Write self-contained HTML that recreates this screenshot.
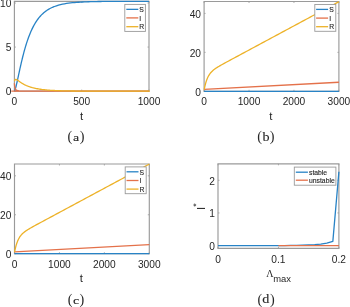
<!DOCTYPE html>
<html><head><meta charset="utf-8"><style>
html,body{margin:0;padding:0;background:#fff;}
svg{display:block;will-change:transform;}

</style></head><body>
<svg width="350" height="307" viewBox="0 0 350 307">

<rect width="350" height="307" fill="#fff"/>
<g >
<path d="M14.4,1.3 H149.0 V91.1 H14.4 Z" fill="none" stroke="#9a9a9a" stroke-width="1.15"/>
<path d="M14.4,91.1 h1.5 M149.0,91.1 h-1.5" stroke="#9a9a9a" stroke-width="0.8"/>
<path d="M14.4,47.074999999999996 h1.5 M149.0,47.074999999999996 h-1.5" stroke="#9a9a9a" stroke-width="0.8"/>
<path d="M14.4,3.049999999999997 h1.5 M149.0,3.049999999999997 h-1.5" stroke="#9a9a9a" stroke-width="0.8"/>
<path d="M14.4,91.1 v-1.5 M14.4,1.3 v1.5" stroke="#9a9a9a" stroke-width="0.8"/>
<path d="M81.7,91.1 v-1.5 M81.7,1.3 v1.5" stroke="#9a9a9a" stroke-width="0.8"/>
<path d="M149.0,91.1 v-1.5 M149.0,1.3 v1.5" stroke="#9a9a9a" stroke-width="0.8"/>
<g fill="none" stroke-width="1.3" stroke-linejoin="round">
<path d="M14.50,90.80 L14.75,90.48 L15.00,89.91 L15.25,89.19 L15.50,88.37 L15.75,87.47 L16.00,86.51 L16.25,85.49 L16.50,84.44 L16.75,83.36 L17.00,82.26 L17.25,81.13 L17.50,79.99 L17.75,78.84 L18.00,77.69 L18.25,76.53 L18.50,75.37 L18.75,74.21 L19.00,73.05 L19.25,71.90 L19.50,70.75 L19.75,69.61 L20.00,68.47 L20.25,67.35 L20.50,66.24 L20.75,65.13 L21.00,64.04 L21.25,62.96 L21.50,61.89 L21.75,60.84 L22.00,59.80 L22.25,58.77 L22.50,57.75 L22.75,56.75 L23.00,55.76 L23.25,54.79 L23.50,53.83 L23.75,52.88 L24.00,51.95 L24.25,51.04 L24.50,50.13 L25.00,48.37 L25.50,46.67 L26.00,45.02 L26.50,43.42 L27.00,41.88 L27.50,40.39 L28.00,38.95 L28.50,37.56 L29.00,36.23 L29.50,34.94 L30.00,33.69 L30.50,32.49 L31.00,31.34 L31.50,30.22 L32.00,29.15 L32.50,28.12 L33.00,27.12 L33.50,26.16 L34.00,25.24 L34.50,24.35 L35.00,23.49 L35.50,22.67 L36.00,21.88 L36.50,21.11 L37.00,20.38 L37.50,19.67 L38.00,18.99 L38.50,18.34 L39.00,17.71 L39.50,17.10 L40.00,16.52 L40.50,15.96 L41.00,15.41 L41.50,14.89 L42.00,14.39 L42.50,13.91 L43.00,13.45 L43.50,13.00 L44.00,12.57 L44.50,12.16 L45.00,11.76 L45.50,11.38 L46.00,11.01 L46.50,10.66 L47.00,10.31 L47.50,9.99 L48.00,9.67 L48.50,9.37 L49.00,9.07 L49.50,8.79 L50.00,8.52 L50.50,8.26 L51.00,8.01 L51.50,7.76 L52.00,7.53 L52.50,7.30 L53.00,7.09 L53.50,6.88 L54.00,6.68 L54.50,6.49 L56.50,5.78 L58.50,5.17 L60.50,4.65 L62.50,4.20 L64.50,3.81 L66.50,3.48 L68.50,3.19 L70.50,2.94 L72.50,2.72 L74.50,2.53 L76.50,2.37 L78.50,2.23 L80.50,2.11 L82.50,2.00 L84.50,1.91 L86.50,1.83 L88.50,1.76 L90.50,1.70 L92.50,1.65 L94.50,1.60 L96.50,1.56 L98.50,1.52 L100.50,1.49 L102.50,1.47 L104.50,1.44 L106.50,1.42 L108.50,1.41 L110.50,1.39 L112.50,1.38 L114.50,1.37 L116.50,1.36 L118.50,1.35 L120.50,1.34 L122.50,1.33 L124.50,1.33 L126.50,1.32 L128.50,1.32 L130.50,1.31 L132.50,1.31 L134.50,1.31 L136.50,1.30 L138.50,1.30 L140.50,1.30 L142.50,1.30 L144.50,1.30 L146.50,1.29 L148.50,1.29 L149.00,1.29" stroke="#2883C6"/>
<path d="M14.40,83.30 C14.45,83.82 14.52,85.45 14.70,86.40 C14.88,87.35 15.15,88.33 15.50,89.00 C15.85,89.67 16.22,90.07 16.80,90.40 C17.38,90.73 18.13,90.88 19.00,91.00 C19.87,91.12 0.33,91.12 22.00,91.15 C43.67,91.18 127.83,91.15 149.00,91.15" stroke="#E4714A"/>
<path d="M14.40,81.19 L14.65,80.53 L14.90,80.07 L15.15,79.76 L15.40,79.57 L15.65,79.47 L15.90,79.44 L16.15,79.47 L16.40,79.54 L16.65,79.65 L16.90,79.77 L17.15,79.92 L17.40,80.08 L17.65,80.24 L17.90,80.42 L18.15,80.60 L18.40,80.78 L18.65,80.96 L18.90,81.14 L19.15,81.33 L19.40,81.51 L19.65,81.69 L19.90,81.86 L20.15,82.04 L20.40,82.21 L20.65,82.38 L20.90,82.55 L21.15,82.71 L21.40,82.87 L21.65,83.03 L21.90,83.19 L22.15,83.34 L22.40,83.49 L22.65,83.64 L22.90,83.78 L23.15,83.92 L23.40,84.06 L23.65,84.20 L23.90,84.33 L24.15,84.46 L24.40,84.59 L25.40,85.08 L26.40,85.53 L27.40,85.95 L28.40,86.34 L29.40,86.70 L30.40,87.03 L31.40,87.34 L32.40,87.63 L33.40,87.89 L34.40,88.13 L35.40,88.36 L36.40,88.57 L37.40,88.76 L38.40,88.94 L39.40,89.11 L40.40,89.26 L41.40,89.40 L42.40,89.53 L43.40,89.65 L44.40,89.76 L45.40,89.87 L46.40,89.96 L47.40,90.05 L48.40,90.13 L49.40,90.21 L50.40,90.28 L51.40,90.35 L52.40,90.41 L53.40,90.46 L54.40,90.51 L55.40,90.56 L56.40,90.60 L57.40,90.65 L58.40,90.68 L59.40,90.72 L60.40,90.75 L61.40,90.78 L62.40,90.81 L63.40,90.83 L64.40,90.86 L65.40,90.88 L66.40,90.90 L67.40,90.92 L68.40,90.94 L69.40,90.95 L70.40,90.97 L71.40,90.98 L72.40,90.99 L73.40,91.00 L74.40,91.02 L75.40,91.03 L76.40,91.03 L77.40,91.04 L78.40,91.05 L79.40,91.06 L80.40,91.07 L81.40,91.07 L82.40,91.08 L83.40,91.08 L84.40,91.09 L89.40,91.11 L94.40,91.12 L99.40,91.13 L104.40,91.14 L109.40,91.14 L114.40,91.14 L119.40,91.15 L124.40,91.15 L129.40,91.15 L134.40,91.15 L139.40,91.15 L144.40,91.15 L149.40,91.15 L149.00,91.15" stroke="#EDB228"/>
</g>
<rect x="124.8" y="4.4" width="20.60000000000001" height="27.0" fill="#fff" stroke="#9a9a9a" stroke-width="0.9"/>
<path d="M126.3,9.35 H138.3" stroke="#2883C6" stroke-width="1.3"/>
<path d="M126.3,17.9 H138.3" stroke="#E4714A" stroke-width="1.3"/>
<path d="M126.3,26.7 H138.3" stroke="#EDB228" stroke-width="1.3"/>
<path d="M204.1,1.5 H338.9 V91.3 H204.1 Z" fill="none" stroke="#9a9a9a" stroke-width="1.15"/>
<path d="M204.1,91.3 h1.5 M338.9,91.3 h-1.5" stroke="#9a9a9a" stroke-width="0.8"/>
<path d="M204.1,52.349999999999994 h1.5 M338.9,52.349999999999994 h-1.5" stroke="#9a9a9a" stroke-width="0.8"/>
<path d="M204.1,13.399999999999991 h1.5 M338.9,13.399999999999991 h-1.5" stroke="#9a9a9a" stroke-width="0.8"/>
<path d="M204.1,91.3 v-1.5 M204.1,1.5 v1.5" stroke="#9a9a9a" stroke-width="0.8"/>
<path d="M249.0333333333333,91.3 v-1.5 M249.0333333333333,1.5 v1.5" stroke="#9a9a9a" stroke-width="0.8"/>
<path d="M293.96666666666664,91.3 v-1.5 M293.96666666666664,1.5 v1.5" stroke="#9a9a9a" stroke-width="0.8"/>
<path d="M338.9,91.3 v-1.5 M338.9,1.5 v1.5" stroke="#9a9a9a" stroke-width="0.8"/>
<g fill="none" stroke-width="1.3" stroke-linejoin="round">
<path d="M204.1,91.3 H338.9" stroke="#2883C6"/>
<path d="M204.1,89.39999999999999 L338.9,82.24999999999999" stroke="#E4714A"/>
<path d="M204.20,89.60 L204.30,89.08 L204.40,88.58 L204.50,88.09 L204.60,87.62 L204.70,87.15 L204.80,86.70 L204.90,86.26 L205.00,85.83 L205.10,85.42 L205.20,85.01 L205.30,84.61 L205.40,84.23 L205.50,83.85 L205.60,83.49 L205.70,83.13 L205.80,82.78 L205.90,82.45 L206.00,82.12 L206.10,81.79 L206.20,81.48 L206.30,81.17 L206.40,80.88 L206.50,80.58 L206.60,80.30 L206.70,80.02 L206.80,79.75 L206.90,79.49 L207.00,79.23 L207.10,78.98 L207.20,78.73 L207.70,77.59 L208.20,76.56 L208.70,75.65 L209.20,74.82 L209.70,74.07 L210.20,73.39 L210.70,72.77 L211.20,72.20 L211.70,71.67 L212.20,71.17 L212.70,70.71 L213.20,70.28 L213.70,69.86 L214.20,69.47 L214.70,69.10 L215.20,68.74 L215.70,68.39 L216.20,68.06 L216.70,67.73 L217.20,67.41 L217.70,67.10 L218.20,66.80 L218.70,66.50 L219.20,66.20 L219.70,65.91 L220.20,65.62 L220.70,65.34 L221.20,65.05 L221.70,64.77 L222.20,64.49 L224.20,63.39 L226.20,62.29 L228.20,61.21 L230.20,60.13 L232.20,59.05 L234.20,57.98 L236.20,56.90 L238.20,55.83 L240.20,54.75 L242.20,53.68 L244.20,52.60 L246.20,51.53 L248.20,50.45 L250.20,49.38 L252.20,48.30 L254.20,47.23 L256.20,46.15 L258.20,45.08 L260.20,44.00 L262.20,42.93 L264.20,41.85 L266.20,40.78 L268.20,39.70 L270.20,38.63 L272.20,37.55 L274.20,36.48 L276.20,35.40 L278.20,34.33 L280.20,33.25 L282.20,32.18 L284.20,31.10 L286.20,30.03 L288.20,28.95 L290.20,27.88 L292.20,26.80 L294.20,25.73 L296.20,24.65 L298.20,23.58 L300.20,22.50 L302.20,21.43 L304.20,20.35 L306.20,19.28 L308.20,18.20 L310.20,17.13 L312.20,16.05 L314.20,14.98 L316.20,13.90 L318.20,12.83 L320.20,11.75 L322.20,10.68 L324.20,9.60 L326.20,8.52 L328.20,7.45 L330.20,6.38 L332.20,5.30 L334.20,4.22 L336.20,3.15 L338.20,2.08 L338.90,1.70" stroke="#EDB228"/>
</g>
<rect x="314.8" y="4.5" width="21.0" height="26.8" fill="#fff" stroke="#9a9a9a" stroke-width="0.9"/>
<path d="M316.1,9.4 H328.1" stroke="#2883C6" stroke-width="1.3"/>
<path d="M316.1,18.1 H328.1" stroke="#E4714A" stroke-width="1.3"/>
<path d="M316.1,26.7 H328.1" stroke="#EDB228" stroke-width="1.3"/>
<path d="M14.5,164.0 H149.29999999999998 V253.7 H14.5 Z" fill="none" stroke="#9a9a9a" stroke-width="1.15"/>
<path d="M14.5,253.7 h1.5 M149.29999999999998,253.7 h-1.5" stroke="#9a9a9a" stroke-width="0.8"/>
<path d="M14.5,214.75 h1.5 M149.29999999999998,214.75 h-1.5" stroke="#9a9a9a" stroke-width="0.8"/>
<path d="M14.5,175.79999999999998 h1.5 M149.29999999999998,175.79999999999998 h-1.5" stroke="#9a9a9a" stroke-width="0.8"/>
<path d="M14.5,253.7 v-1.5 M14.5,164.0 v1.5" stroke="#9a9a9a" stroke-width="0.8"/>
<path d="M59.43333333333332,253.7 v-1.5 M59.43333333333332,164.0 v1.5" stroke="#9a9a9a" stroke-width="0.8"/>
<path d="M104.36666666666665,253.7 v-1.5 M104.36666666666665,164.0 v1.5" stroke="#9a9a9a" stroke-width="0.8"/>
<path d="M149.29999999999998,253.7 v-1.5 M149.29999999999998,164.0 v1.5" stroke="#9a9a9a" stroke-width="0.8"/>
<g fill="none" stroke-width="1.3" stroke-linejoin="round">
<path d="M14.5,253.7 H149.29999999999998" stroke="#2883C6"/>
<path d="M14.5,251.79999999999998 L149.29999999999998,244.64999999999998" stroke="#E4714A"/>
<path d="M14.60,252.00 L14.70,251.48 L14.80,250.98 L14.90,250.49 L15.00,250.02 L15.10,249.55 L15.20,249.10 L15.30,248.66 L15.40,248.23 L15.50,247.82 L15.60,247.41 L15.70,247.01 L15.80,246.63 L15.90,246.25 L16.00,245.89 L16.10,245.53 L16.20,245.18 L16.30,244.85 L16.40,244.52 L16.50,244.19 L16.60,243.88 L16.70,243.57 L16.80,243.28 L16.90,242.98 L17.00,242.70 L17.10,242.42 L17.20,242.15 L17.30,241.89 L17.40,241.63 L17.50,241.38 L17.60,241.13 L18.10,239.99 L18.60,238.96 L19.10,238.05 L19.60,237.22 L20.10,236.47 L20.60,235.79 L21.10,235.17 L21.60,234.60 L22.10,234.07 L22.60,233.57 L23.10,233.11 L23.60,232.68 L24.10,232.26 L24.60,231.87 L25.10,231.50 L25.60,231.14 L26.10,230.79 L26.60,230.46 L27.10,230.13 L27.60,229.81 L28.10,229.50 L28.60,229.20 L29.10,228.90 L29.60,228.60 L30.10,228.31 L30.60,228.02 L31.10,227.74 L31.60,227.45 L32.10,227.17 L32.60,226.89 L34.60,225.79 L36.60,224.69 L38.60,223.61 L40.60,222.53 L42.60,221.45 L44.60,220.38 L46.60,219.30 L48.60,218.23 L50.60,217.15 L52.60,216.08 L54.60,215.00 L56.60,213.93 L58.60,212.85 L60.60,211.78 L62.60,210.70 L64.60,209.63 L66.60,208.55 L68.60,207.48 L70.60,206.40 L72.60,205.33 L74.60,204.25 L76.60,203.18 L78.60,202.10 L80.60,201.03 L82.60,199.95 L84.60,198.88 L86.60,197.80 L88.60,196.73 L90.60,195.65 L92.60,194.58 L94.60,193.50 L96.60,192.43 L98.60,191.35 L100.60,190.28 L102.60,189.20 L104.60,188.13 L106.60,187.05 L108.60,185.98 L110.60,184.90 L112.60,183.83 L114.60,182.75 L116.60,181.68 L118.60,180.60 L120.60,179.53 L122.60,178.45 L124.60,177.38 L126.60,176.30 L128.60,175.23 L130.60,174.15 L132.60,173.07 L134.60,172.00 L136.60,170.93 L138.60,169.85 L140.60,168.78 L142.60,167.70 L144.60,166.62 L146.60,165.55 L148.60,164.48 L149.30,164.10" stroke="#EDB228"/>
</g>
<rect x="125.20000000000002" y="166.89999999999998" width="21.0" height="26.80000000000001" fill="#fff" stroke="#9a9a9a" stroke-width="0.9"/>
<path d="M126.50000000000003,171.79999999999998 H138.50000000000003" stroke="#2883C6" stroke-width="1.3"/>
<path d="M126.50000000000003,180.49999999999997 H138.50000000000003" stroke="#E4714A" stroke-width="1.3"/>
<path d="M126.50000000000003,189.09999999999997 H138.50000000000003" stroke="#EDB228" stroke-width="1.3"/>
<path d="M218.0,163.8 H338.9 V248.4 H218.0 Z" fill="none" stroke="#9a9a9a" stroke-width="1.15"/>
<path d="M218.0,245.6 h1.5 M338.9,245.6 h-1.5" stroke="#9a9a9a" stroke-width="0.8"/>
<path d="M218.0,212.95 h1.5 M338.9,212.95 h-1.5" stroke="#9a9a9a" stroke-width="0.8"/>
<path d="M218.0,180.3 h1.5 M338.9,180.3 h-1.5" stroke="#9a9a9a" stroke-width="0.8"/>
<path d="M218.0,248.4 v-1.5 M218.0,163.8 v1.5" stroke="#9a9a9a" stroke-width="0.8"/>
<path d="M278.45,248.4 v-1.5 M278.45,163.8 v1.5" stroke="#9a9a9a" stroke-width="0.8"/>
<path d="M338.9,248.4 v-1.5 M338.9,163.8 v1.5" stroke="#9a9a9a" stroke-width="0.8"/>
<g fill="none" stroke-width="1.3" stroke-linejoin="round">
<path d="M218.00,245.60 L224.04,245.60 L230.09,245.60 L236.13,245.60 L242.18,245.60 L248.22,245.60 L254.27,245.60 L260.31,245.60 L266.36,245.60 L272.40,245.60 L278.45,245.60 L284.50,245.53 L290.54,245.47 L296.58,245.34 L302.63,245.14 L308.67,244.88 L314.72,244.56 L320.76,244.03 L326.81,243.05 L332.85,241.36 L338.90,171.81" stroke="#2883C6"/>
<path d="M278.45,245.6 H338.9" stroke="#E4714A"/>
</g>
<rect x="294.3" y="167.1" width="41.6" height="18.1" fill="#fff" stroke="#9a9a9a" stroke-width="0.9"/>
<path d="M295.8,172.2 H307.9" stroke="#2883C6" stroke-width="1.3"/>
<path d="M295.8,180.2 H307.9" stroke="#E4714A" stroke-width="1.3"/>
</g>
<text x="11.3" y="95.3" text-anchor="end" font-family="Liberation Sans" font-size="10.2" fill="#262626" >0</text>
<text x="11.3" y="51.275" text-anchor="end" font-family="Liberation Sans" font-size="10.2" fill="#262626" >5</text>
<text x="11.3" y="7.249999999999997" text-anchor="end" font-family="Liberation Sans" font-size="10.2" fill="#262626" >10</text>
<text x="14.4" y="105.1" text-anchor="middle" font-family="Liberation Sans" font-size="10.2" fill="#262626" >0</text>
<text x="81.7" y="105.1" text-anchor="middle" font-family="Liberation Sans" font-size="10.2" fill="#262626" >500</text>
<text x="149.0" y="105.1" text-anchor="middle" font-family="Liberation Sans" font-size="10.2" fill="#262626" >1000</text>
<text x="81.7" y="119.7" text-anchor="middle" font-family="Liberation Sans" font-size="11.4" fill="#262626" >t</text>
<text x="67.55" y="141.4" font-family="Liberation Serif" font-size="14.2" fill="#262626">(</text>
<text x="84.45" y="141.4" text-anchor="end" font-family="Liberation Serif" font-size="14.2" fill="#262626">)</text>
<text transform="translate(76.0,140.6) scale(1.27,1)" x="0" y="0" text-anchor="middle" font-family="Liberation Serif" font-size="11" fill="#262626" stroke="#262626" stroke-width="0.1">a</text>
<text x="139.3" y="12.05" text-anchor="start" font-family="Liberation Sans" font-size="6.8" fill="#262626" stroke="#262626" stroke-width="0.12">S</text>
<text x="139.3" y="20.599999999999998" text-anchor="start" font-family="Liberation Sans" font-size="6.8" fill="#262626" stroke="#262626" stroke-width="0.12">I</text>
<text x="139.3" y="29.4" text-anchor="start" font-family="Liberation Sans" font-size="6.8" fill="#262626" stroke="#262626" stroke-width="0.12">R</text>
<text x="201.0" y="95.5" text-anchor="end" font-family="Liberation Sans" font-size="10.2" fill="#262626" >0</text>
<text x="201.0" y="56.55" text-anchor="end" font-family="Liberation Sans" font-size="10.2" fill="#262626" >20</text>
<text x="201.0" y="17.59999999999999" text-anchor="end" font-family="Liberation Sans" font-size="10.2" fill="#262626" >40</text>
<text x="204.1" y="105.2" text-anchor="middle" font-family="Liberation Sans" font-size="10.2" fill="#262626" >0</text>
<text x="249.0333333333333" y="105.2" text-anchor="middle" font-family="Liberation Sans" font-size="10.2" fill="#262626" >1000</text>
<text x="293.96666666666664" y="105.2" text-anchor="middle" font-family="Liberation Sans" font-size="10.2" fill="#262626" >2000</text>
<text x="338.9" y="105.2" text-anchor="middle" font-family="Liberation Sans" font-size="10.2" fill="#262626" >3000</text>
<text x="270.9" y="119.6" text-anchor="middle" font-family="Liberation Sans" font-size="11.4" fill="#262626" >t</text>
<text x="257.35" y="141.4" font-family="Liberation Serif" font-size="14.2" fill="#262626">(</text>
<text x="274.45" y="141.4" text-anchor="end" font-family="Liberation Serif" font-size="14.2" fill="#262626">)</text>
<text transform="translate(266.0,140.6) scale(1.2,1)" x="0" y="0" text-anchor="middle" font-family="Liberation Serif" font-size="11.8" fill="#262626" stroke="#262626" stroke-width="0.1">b</text>
<text x="329.2" y="12.100000000000001" text-anchor="start" font-family="Liberation Sans" font-size="6.8" fill="#262626" stroke="#262626" stroke-width="0.12">S</text>
<text x="329.2" y="20.8" text-anchor="start" font-family="Liberation Sans" font-size="6.8" fill="#262626" stroke="#262626" stroke-width="0.12">I</text>
<text x="329.2" y="29.4" text-anchor="start" font-family="Liberation Sans" font-size="6.8" fill="#262626" stroke="#262626" stroke-width="0.12">R</text>
<text x="11.4" y="257.9" text-anchor="end" font-family="Liberation Sans" font-size="10.2" fill="#262626" >0</text>
<text x="11.4" y="218.95" text-anchor="end" font-family="Liberation Sans" font-size="10.2" fill="#262626" >20</text>
<text x="11.4" y="179.99999999999997" text-anchor="end" font-family="Liberation Sans" font-size="10.2" fill="#262626" >40</text>
<text x="14.5" y="267.59999999999997" text-anchor="middle" font-family="Liberation Sans" font-size="10.2" fill="#262626" >0</text>
<text x="59.43333333333332" y="267.59999999999997" text-anchor="middle" font-family="Liberation Sans" font-size="10.2" fill="#262626" >1000</text>
<text x="104.36666666666665" y="267.59999999999997" text-anchor="middle" font-family="Liberation Sans" font-size="10.2" fill="#262626" >2000</text>
<text x="149.29999999999998" y="267.59999999999997" text-anchor="middle" font-family="Liberation Sans" font-size="10.2" fill="#262626" >3000</text>
<text x="81.3" y="282.0" text-anchor="middle" font-family="Liberation Sans" font-size="11.4" fill="#262626" >t</text>
<text x="67.85" y="304.3" font-family="Liberation Serif" font-size="14.2" fill="#262626">(</text>
<text x="84.25" y="304.3" text-anchor="end" font-family="Liberation Serif" font-size="14.2" fill="#262626">)</text>
<text transform="translate(76.0,303.5) scale(1.27,1)" x="0" y="0" text-anchor="middle" font-family="Liberation Serif" font-size="11" fill="#262626" stroke="#262626" stroke-width="0.1">c</text>
<text x="139.6" y="174.49999999999997" text-anchor="start" font-family="Liberation Sans" font-size="6.8" fill="#262626" stroke="#262626" stroke-width="0.12">S</text>
<text x="139.6" y="183.19999999999996" text-anchor="start" font-family="Liberation Sans" font-size="6.8" fill="#262626" stroke="#262626" stroke-width="0.12">I</text>
<text x="139.6" y="191.79999999999995" text-anchor="start" font-family="Liberation Sans" font-size="6.8" fill="#262626" stroke="#262626" stroke-width="0.12">R</text>
<text x="214.9" y="249.79999999999998" text-anchor="end" font-family="Liberation Sans" font-size="10.2" fill="#262626" >0</text>
<text x="214.9" y="217.14999999999998" text-anchor="end" font-family="Liberation Sans" font-size="10.2" fill="#262626" >1</text>
<text x="214.9" y="184.5" text-anchor="end" font-family="Liberation Sans" font-size="10.2" fill="#262626" >2</text>
<text x="218.0" y="262.6" text-anchor="middle" font-family="Liberation Sans" font-size="10.2" fill="#262626" >0</text>
<text x="278.45" y="262.6" text-anchor="middle" font-family="Liberation Sans" font-size="10.2" fill="#262626" >0.1</text>
<text x="338.9" y="262.6" text-anchor="middle" font-family="Liberation Sans" font-size="10.2" fill="#262626" >0.2</text>
<text transform="translate(266.2,276.6) scale(0.88,1)" x="0" y="0" font-family="Liberation Serif" font-size="11.4" fill="#262626">&#923;</text>
<text x="273.2" y="282.1" font-family="Liberation Sans" font-size="9.4" fill="#262626">max</text>
<g transform="translate(205.3,210.0) rotate(-90)"><text x="0" y="0" font-family="Liberation Sans" font-size="11.4" fill="#262626">I<tspan font-size="9" dy="-6.5">*</tspan></text></g>
<text x="257.55" y="304.1" font-family="Liberation Serif" font-size="14.2" fill="#262626">(</text>
<text x="274.65" y="304.1" text-anchor="end" font-family="Liberation Serif" font-size="14.2" fill="#262626">)</text>
<text transform="translate(265.8,303.3) scale(1.2,1)" x="0" y="0" text-anchor="middle" font-family="Liberation Serif" font-size="11.8" fill="#262626" stroke="#262626" stroke-width="0.1">d</text>
<text x="309.0" y="174.6" text-anchor="start" font-family="Liberation Sans" font-size="6.8" fill="#262626" stroke="#262626" stroke-width="0.12">stable</text>
<text x="309.0" y="182.5" text-anchor="start" font-family="Liberation Sans" font-size="6.8" fill="#262626" stroke="#262626" stroke-width="0.12">unstable</text>
</svg>
</body></html>
